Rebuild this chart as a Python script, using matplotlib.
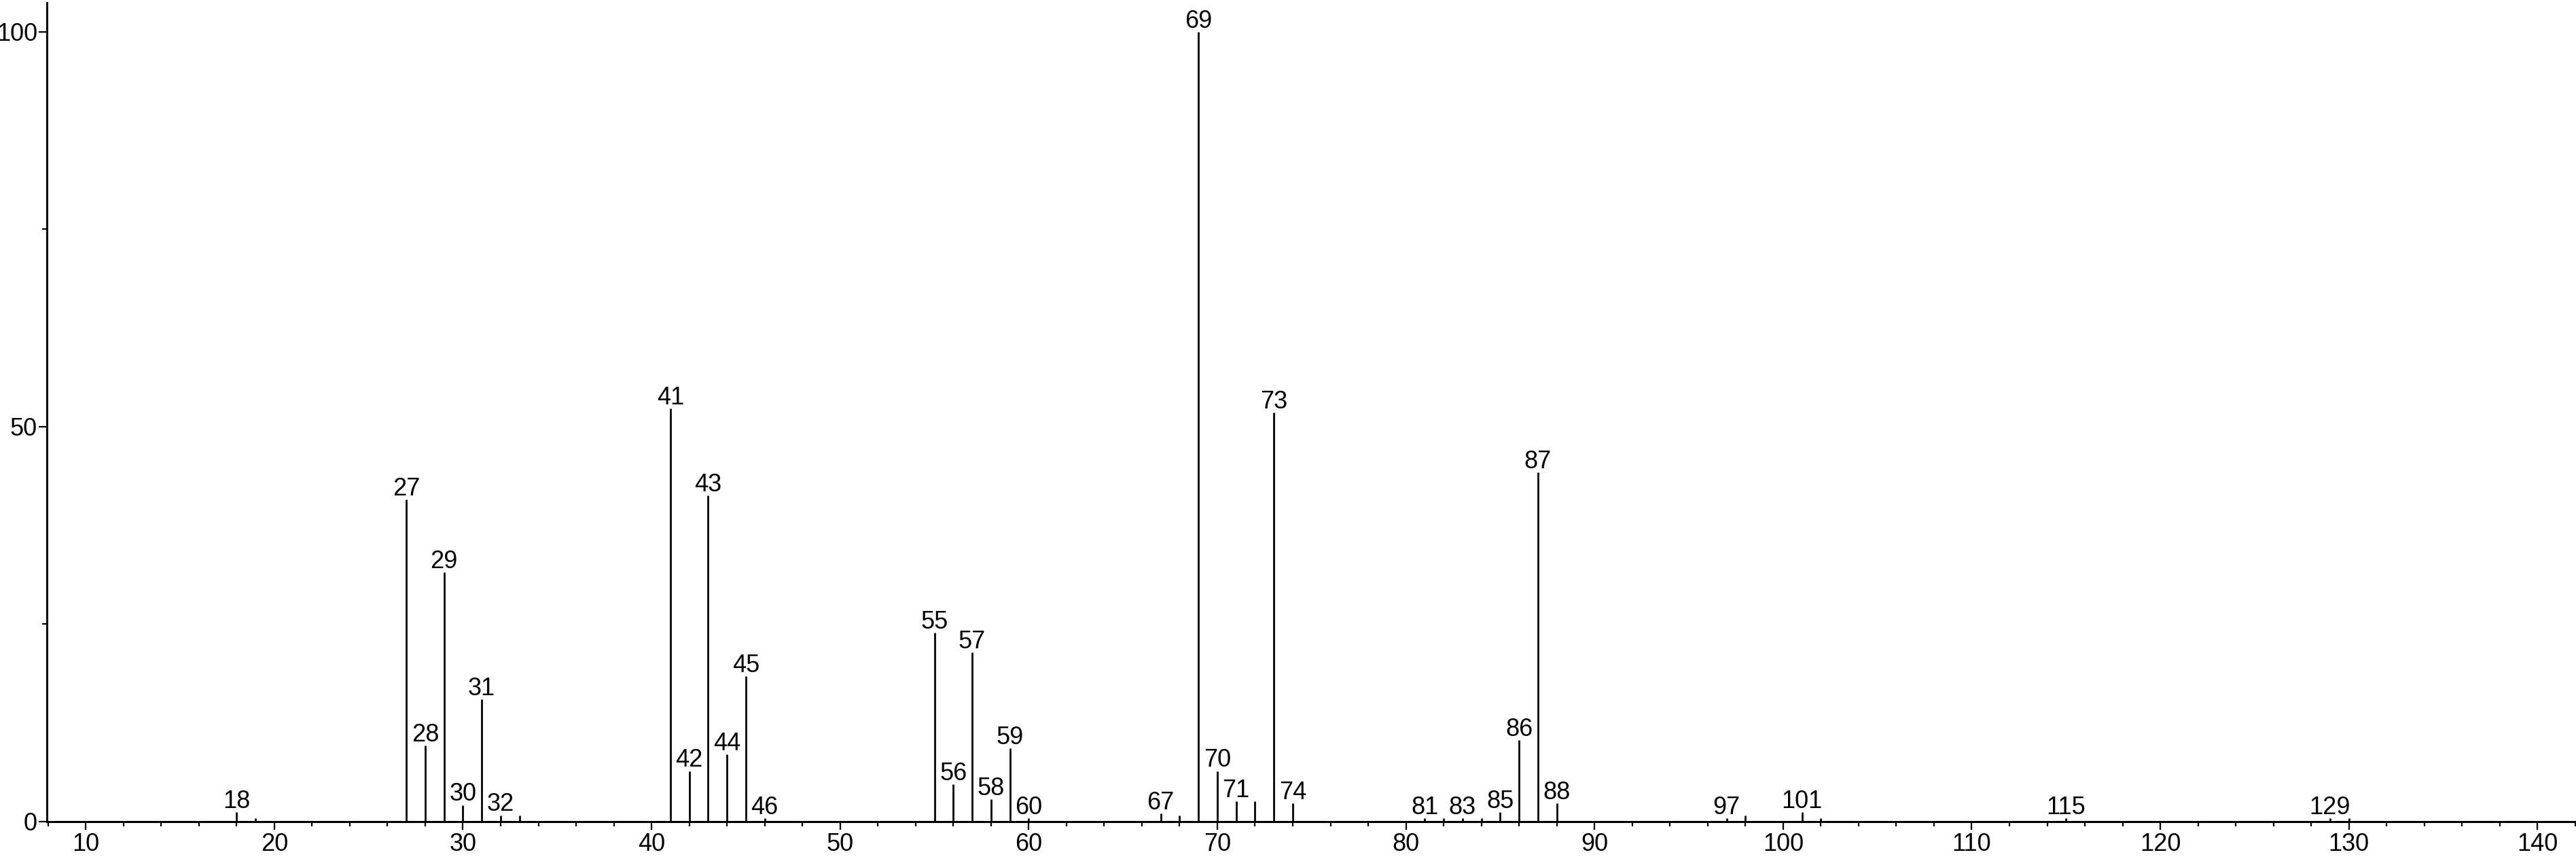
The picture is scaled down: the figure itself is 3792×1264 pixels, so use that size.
import matplotlib
matplotlib.use("Agg")
import matplotlib.pyplot as plt
from matplotlib.ticker import MultipleLocator

# m/z values and relative intensities (%)
mz = [18, 19, 27, 28, 29, 30, 31, 32, 33, 41, 42, 43, 44, 45, 46,
      55, 56, 57, 58, 59, 60, 67, 68, 69, 70, 71, 72, 73, 74,
      81, 82, 83, 84, 85, 86, 87, 88, 97, 98, 101, 102, 115, 129, 130]
intensity = [1.2, 0.4, 40.8, 9.6, 31.6, 2.1, 15.5, 0.8, 0.8, 52.3, 6.4, 41.3, 8.5, 18.4, 0.4,
             23.9, 4.7, 21.4, 2.8, 9.3, 0.4, 1.0, 0.8, 100, 6.4, 2.6, 2.6, 51.8, 2.3,
             0.4, 0.4, 0.4, 0.4, 1.2, 10.3, 44.2, 2.3, 0.4, 0.8, 1.2, 0.4, 0.4, 0.4, 0.4]
labeled = [18, 27, 28, 29, 30, 31, 32, 41, 42, 43, 44, 45, 46, 55, 56, 57, 58, 59, 60,
           67, 69, 70, 71, 73, 74, 81, 83, 85, 86, 87, 88, 97, 101, 115, 129]

plt.rcParams['font.family'] = ['Liberation Sans', 'DejaVu Sans']

fig = plt.figure(figsize=(37.92, 12.64), dpi=100)
ax = fig.add_axes([69 / 3792, 55 / 1264, 1 - 69 / 3792, 1205 / 1264])

ax.vlines(mz, 0, intensity, color="black", linewidth=2.0)

for m, h in zip(mz, intensity):
    if m in labeled:
        ax.annotate(str(m), (m, h), xytext=(0, 4.5), textcoords="offset points",
                    ha="center", va="baseline", fontsize=26, clip_on=False)

ax.set_xlim(7.94, 142.04)
ax.set_ylim(0, 103.7)
ax.spines["top"].set_visible(False)
ax.spines["right"].set_visible(False)
ax.spines["left"].set_linewidth(2.2)
ax.spines["bottom"].set_linewidth(2.2)

ax.xaxis.set_major_locator(MultipleLocator(10))
ax.xaxis.set_minor_locator(MultipleLocator(2))
ax.set_yticks([0, 50, 100])
ax.set_yticks([25, 75], minor=True)
ax.tick_params(axis="both", which="major", direction="out", length=8.5, width=1.6,
               labelsize=26, color="black")
ax.tick_params(axis="x", which="major", pad=3)
ax.tick_params(axis="y", which="major", pad=1.5)
ax.tick_params(axis="both", which="minor", direction="out", length=5, width=1.6)

fig.savefig("out.png", dpi=100)
